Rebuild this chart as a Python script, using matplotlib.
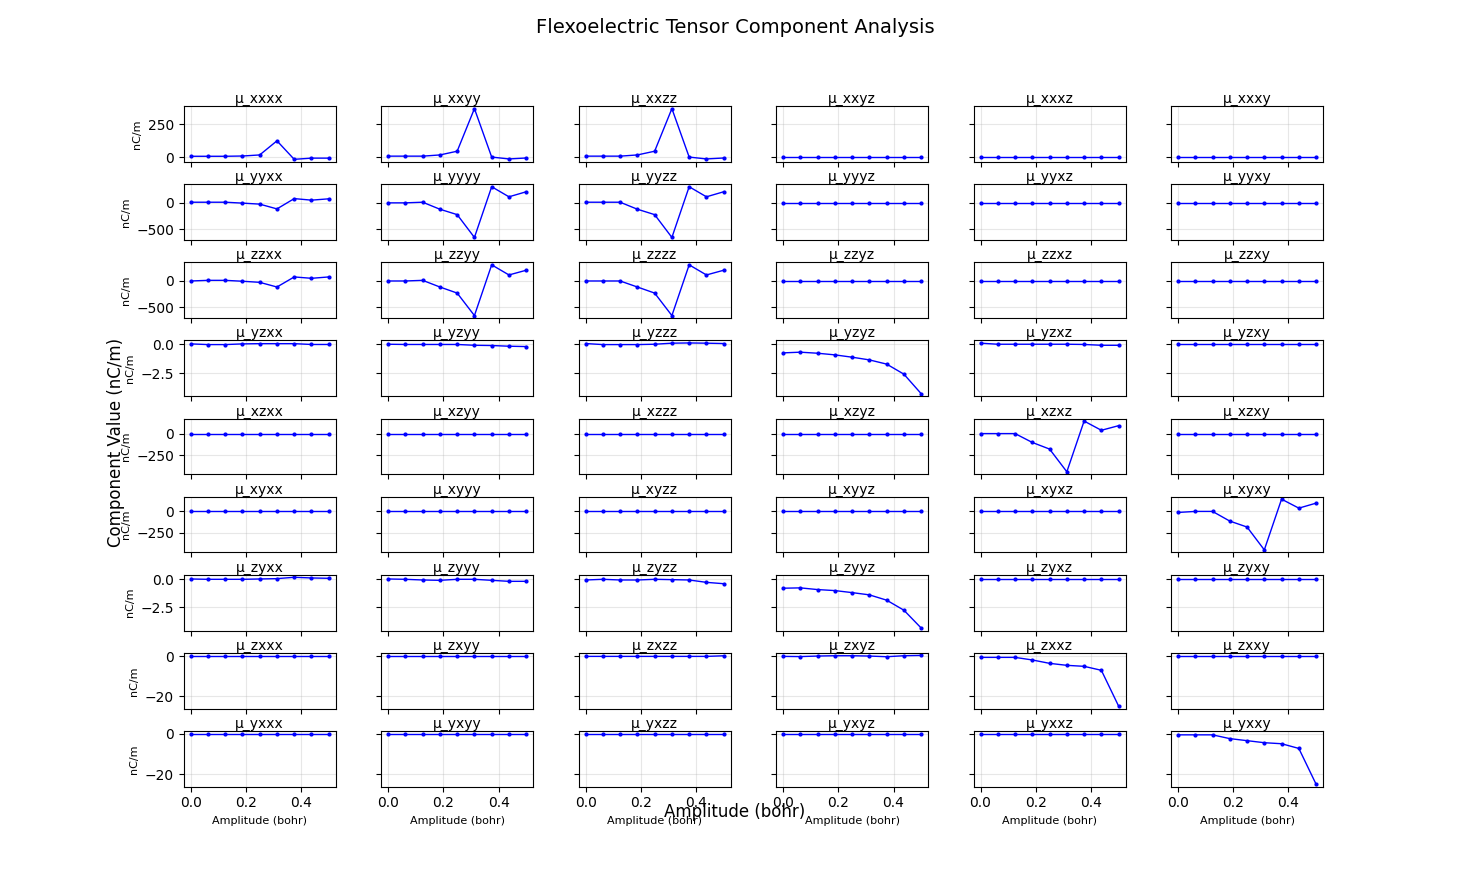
import numpy as np
import matplotlib
matplotlib.use("Agg")
import matplotlib.pyplot as plt

# amplitudes (bohr)
amplitudes = [0.0, 0.0625, 0.125, 0.1875, 0.25, 0.3125, 0.375, 0.4375, 0.5]

first_pair = ["xx", "yy", "zz", "yz", "xz", "xy", "zy", "zx", "yx"]
second_pair = ["xx", "yy", "zz", "yz", "xz", "xy"]

zero = [0, 0, 0, 0, 0, 0, 0, 0, 0]

# strongly varying components (nC/m)
mu_xxxx = [8, 8, 8, 10, 18, 124, -15, -6, -6]
mu_xxyy = [9, 9, 9, 18, 46, 366, 2, -12, -5]
mu_xxzz = [9, 9, 9, 18, 46, 366, 2, -12, -5]
mu_yyxx = [12, 12, 12, -5, -24, -114, 80, 51, 76]
mu_yyyy = [0, 0, 12, -120, -222, -652, 304, 114, 209]
mu_yyzz = [12, 12, 12, -120, -222, -652, 304, 114, 209]
mu_zzxx = [0, 12, 12, -5, -26, -115, 77, 51, 77]
mu_zzyy = [0, 0, 12, -115, -231, -660, 308, 115, 205]
mu_zzzz = [0, 0, 0, -115, -231, -660, 308, 115, 205]
mu_xzxz = [0, 0, 0, -102, -178, -439, 144, 38, 91]
mu_xyxy = [-12, 0, 0, -112, -181, -446, 142, 38, 96]

# small components (nC/m)
mu_yzxx = [0.03, -0.03, -0.03, 0.03, 0.05, 0.05, 0.05, -0.02, -0.02]
mu_yzyy = [0.0, -0.02, -0.02, -0.02, -0.02, -0.09, -0.11, -0.17, -0.2]
mu_yzzz = [0.06, -0.03, -0.03, -0.03, 0.0, 0.09, 0.11, 0.09, 0.06]
mu_yzyz = [-0.74, -0.68, -0.77, -0.91, -1.11, -1.34, -1.7, -2.56, -4.23]
mu_yzxz = [0.09, 0.0, 0.0, 0.0, 0.0, 0.0, -0.02, -0.09, -0.09]
mu_zyxx = [0.03, 0.0, 0.0, 0.0, 0.03, 0.06, 0.18, 0.12, 0.09]
mu_zyyy = [0.03, 0.0, -0.06, -0.09, 0.0, 0.0, -0.09, -0.18, -0.18]
mu_zyzz = [-0.06, 0.0, -0.06, -0.06, 0.0, -0.03, -0.06, -0.27, -0.39]
mu_zyyz = [-0.79, -0.76, -0.91, -1.0, -1.18, -1.38, -1.85, -2.74, -4.32]
mu_zxyz = [0.0, -0.1, 0.17, 0.33, 0.33, 0.17, -0.17, 0.33, 0.5]
mu_zxzz = [0.0, 0.0, 0.0, 0.0, 0.0, 0.0, 0.0, 0.0, 0.3]
mu_zxxz = [-0.5, -0.5, -0.5, -1.8, -3.5, -4.5, -5.0, -7.0, -25.0]
mu_yxxy = [-0.66, -0.66, -0.66, -2.5, -3.5, -4.5, -5.0, -7.3, -24.8]

data = {
    "xxxx": mu_xxxx, "xxyy": mu_xxyy, "xxzz": mu_xxzz,
    "yyxx": mu_yyxx, "yyyy": mu_yyyy, "yyzz": mu_yyzz,
    "zzxx": mu_zzxx, "zzyy": mu_zzyy, "zzzz": mu_zzzz,
    "yzxx": mu_yzxx, "yzyy": mu_yzyy, "yzzz": mu_yzzz,
    "yzyz": mu_yzyz, "yzxz": mu_yzxz,
    "xzxz": mu_xzxz, "xyxy": mu_xyxy,
    "zyxx": mu_zyxx, "zyyy": mu_zyyy, "zyzz": mu_zyzz, "zyyz": mu_zyyz,
    "zxyz": mu_zxyz, "zxzz": mu_zxzz, "zxxz": mu_zxxz,
    "yxxy": mu_yxxy,
}

fig, axes = plt.subplots(9, 6, figsize=(14.7, 8.84), dpi=100,
                         sharex=True, sharey="row")
plt.subplots_adjust(left=0.125, right=0.9, top=0.88, bottom=0.11,
                    hspace=0.4, wspace=0.3)

for i, a in enumerate(first_pair):
    for j, b in enumerate(second_pair):
        ax = axes[i, j]
        name = a + b
        vals = data.get(name, zero)
        ax.plot(amplitudes, vals, "b-o", markersize=2, linewidth=1)
        ax.set_title("μ_" + name, fontsize=10, pad=2)
        ax.grid(True, alpha=0.3)
        if j == 0:
            ax.set_ylabel("nC/m", fontsize=8)
        if i == 8:
            ax.set_xlabel("Amplitude (bohr)", fontsize=8)

fig.suptitle("Flexoelectric Tensor Component Analysis", fontsize=14)
fig.text(0.5, 0.081, "Amplitude (bohr)", ha="center", va="center", fontsize=12)
fig.text(0.079, 0.5, "Component Value (nC/m)", ha="center", va="center",
         rotation="vertical", fontsize=12)

plt.savefig("out.png", dpi=100)
